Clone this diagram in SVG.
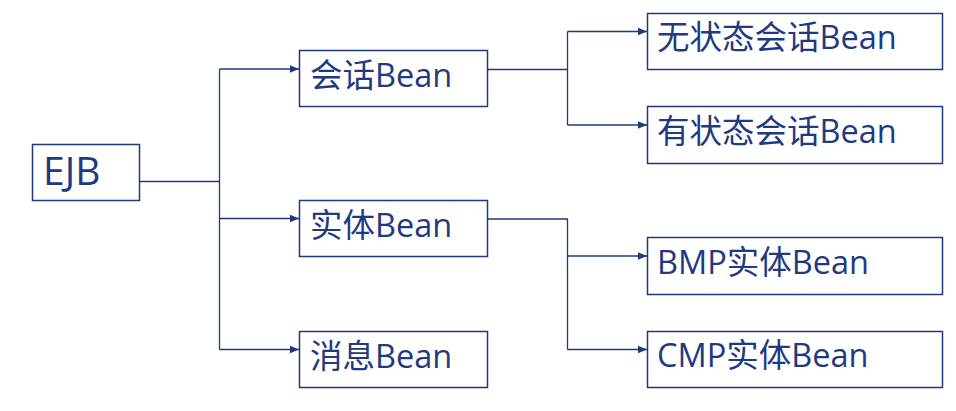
<svg xmlns="http://www.w3.org/2000/svg" width="956" height="411" viewBox="0 0 956 411">
<style>
.box{fill:#fff;stroke:#1F3A7C;stroke-width:1.5}
.t{font-family:"Open Sans","Noto Sans CJK SC",sans-serif;font-size:32.5px;fill:#1F3A80}
.c{fill:none;stroke:#1F3A7C;stroke-width:1.3}
</style>
<defs>
<marker id="ah" viewBox="0 0 10 10" refX="10" refY="5" markerWidth="9" markerHeight="9" markerUnits="userSpaceOnUse" orient="auto">
<path d="M0,0.8 L10,5 L0,9.2 z" fill="#1F3A7C"/>
</marker>
</defs>
<rect width="956" height="411" fill="#fff"/>
<g id="connectors">
<path class="c" d="M139,181.5 H219.5"/>
<path class="c" d="M219.5,69 V349.5"/>
<path class="c" d="M219.5,69 H299" marker-end="url(#ah)"/>
<path class="c" d="M219.5,218.5 H299" marker-end="url(#ah)"/>
<path class="c" d="M219.5,349.5 H299" marker-end="url(#ah)"/>
<path class="c" d="M487,69.5 H567.5"/>
<path class="c" d="M567.5,31.5 V125"/>
<path class="c" d="M567.5,31.5 H647" marker-end="url(#ah)"/>
<path class="c" d="M567.5,125 H647" marker-end="url(#ah)"/>
<path class="c" d="M487,219 H567.5 V349.5"/>
<path class="c" d="M567.5,256 H647" marker-end="url(#ah)"/>
<path class="c" d="M567.5,349.5 H647" marker-end="url(#ah)"/>
</g>
<g id="ejb"><rect class="box" x="32.5" y="144.5" width="107" height="56"/><text class="t" x="43" y="185" style="font-size:39px">EJB</text></g>
<g id="session"><rect class="box" x="299.5" y="50.5" width="188" height="56"/><text class="t" x="310" y="87">会话Bean</text></g>
<g id="entity"><rect class="box" x="299.5" y="200.5" width="188" height="56"/><text class="t" x="310" y="237">实体Bean</text></g>
<g id="message"><rect class="box" x="299.5" y="331.5" width="188" height="56"/><text class="t" x="310" y="368">消息Bean</text></g>
<g id="stateless"><rect class="box" x="647.5" y="13.5" width="295" height="56"/><text class="t" x="657" y="49">无状态会话Bean</text></g>
<g id="stateful"><rect class="box" x="647.5" y="106.5" width="295" height="57"/><text class="t" x="657" y="143">有状态会话Bean</text></g>
<g id="bmp"><rect class="box" x="647.5" y="237.5" width="295" height="57"/><text class="t" x="657" y="274">BMP实体Bean</text></g>
<g id="cmp"><rect class="box" x="647.5" y="331.5" width="295" height="56"/><text class="t" x="657" y="367">CMP实体Bean</text></g>
</svg>
